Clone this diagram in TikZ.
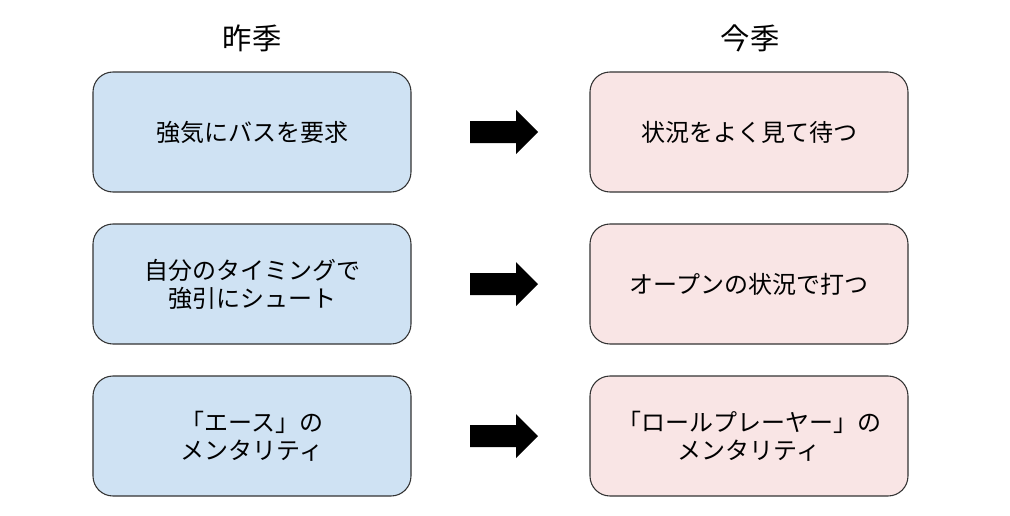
\documentclass[tikz,border=0pt]{standalone}
\usepackage{fontspec}
\setmainfont{Noto Sans CJK JP}
\definecolor{lblue}{HTML}{CFE2F3}
\definecolor{lred}{HTML}{F9E5E5}
\definecolor{bord}{HTML}{333333}
\begin{document}
\begin{tikzpicture}[x=0.75pt,y=-0.75pt,
  box/.style={draw=bord,line width=0.8pt,rounded corners=15pt,minimum width=318*0.75pt,minimum height=120*0.75pt,align=center,font=\fontsize{18pt}{21pt}\selectfont,inner sep=0pt},
  lbox/.style={box,fill=lblue},
  rbox/.style={box,fill=lred},
  head/.style={font=\fontsize{22pt}{26pt}\selectfont}]
\useasboundingbox (0,0) rectangle (1010,515);
\node[head] (h1) at (252,38) {昨季};
\node[head] (h2) at (750,38) {今季};
\node[lbox] (l1) at (252,132) {強気にバスを要求};
\node[lbox] (l2) at (252,284) {自分のタイミングで\\強引にシュート};
\node[lbox] (l3) at (252,436) {「エース」の\\メンタリティ};
\node[rbox] (r1) at (749,132) {状況をよく見て待つ};
\node[rbox] (r2) at (749,284) {オープンの状況で打つ};
\node[rbox] (r3) at (749,436) {「ロールプレーヤー」の\\メンタリティ};
\foreach \y/\n in {132/a1,284/a2,436/a3}{
  \coordinate (\n) at (470,\y);
  \fill (\n) ++(0,-11) -- ++(46,0) -- ++(0,-11) -- ++(22,22) -- ++(-22,22) -- ++(0,-11) -- ++(-46,0) -- cycle;
}
\end{tikzpicture}
\end{document}
